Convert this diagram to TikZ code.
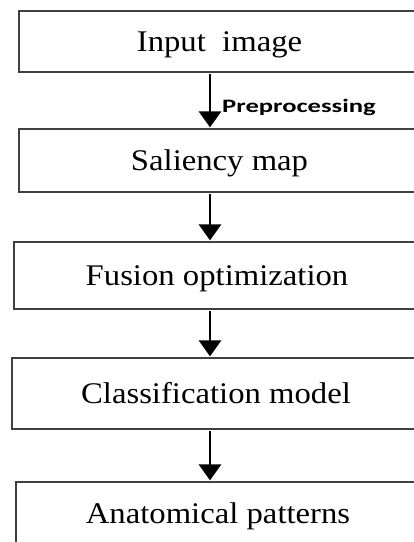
\documentclass[tikz,border=0pt]{standalone}
\usepackage{fontspec}
\setmainfont{Liberation Serif}
\newfontfamily\labelfont{Carlito}
\usepackage{tikz}
\usetikzlibrary{shapes,arrows.meta}

\newcommand{\wtext}[2]{\scalebox{#1}[1]{#2}}

\begin{document}
\begin{tikzpicture}[x=1pt,y=-1pt,
                every path/.style={>={Triangle[width=22pt,length=16pt]}},
                box/.style={draw=black!75,line width=1.2pt,inner sep=0pt,
                  font=\fontsize{30}{33}\selectfont,text height=27pt,text depth=7pt},
                flow/.style={->,line width=2.8pt,shorten <=1.5pt,shorten >=1pt}]
  \clip (0,0) rectangle (414,542);
  \node[box,minimum width=401pt,minimum height=61pt] (a) at (219.5,41.5)  { \wtext{1.09}{Input\ \ image} };
  \node[box,minimum width=401pt,minimum height=63pt] (b) at (219.5,160.5) { \wtext{1.09}{Saliency map} };
  \node[box,minimum width=406pt,minimum height=67pt] (c) at (217,275.5)   { \wtext{1.09}{Fusion optimization} };
  \node[box,minimum width=408pt,minimum height=71pt] (d) at (216,393.5)   { \wtext{1.09}{Classification model} };
  \node[box,minimum width=404pt,minimum height=62pt] (e) at (218,513)     { \wtext{1.09}{Anatomical patterns} };
  \coordinate (axis) at (210,0);
  \node[anchor=base west,inner sep=0pt,font=\labelfont\bfseries\fontsize{19}{22}\selectfont]
                   (p) at (222,112) { \wtext{1.4}{Preprocessing} };
  \draw[flow] (a.south -| axis) -- (b.north -| axis);
  \draw[flow] (b.south -| axis) -- (c.north -| axis);
  \draw[flow] (c.south -| axis) -- (d.north -| axis);
  \draw[flow] (d.south -| axis) -- (e.north -| axis);
\end{tikzpicture}
\end{document}
